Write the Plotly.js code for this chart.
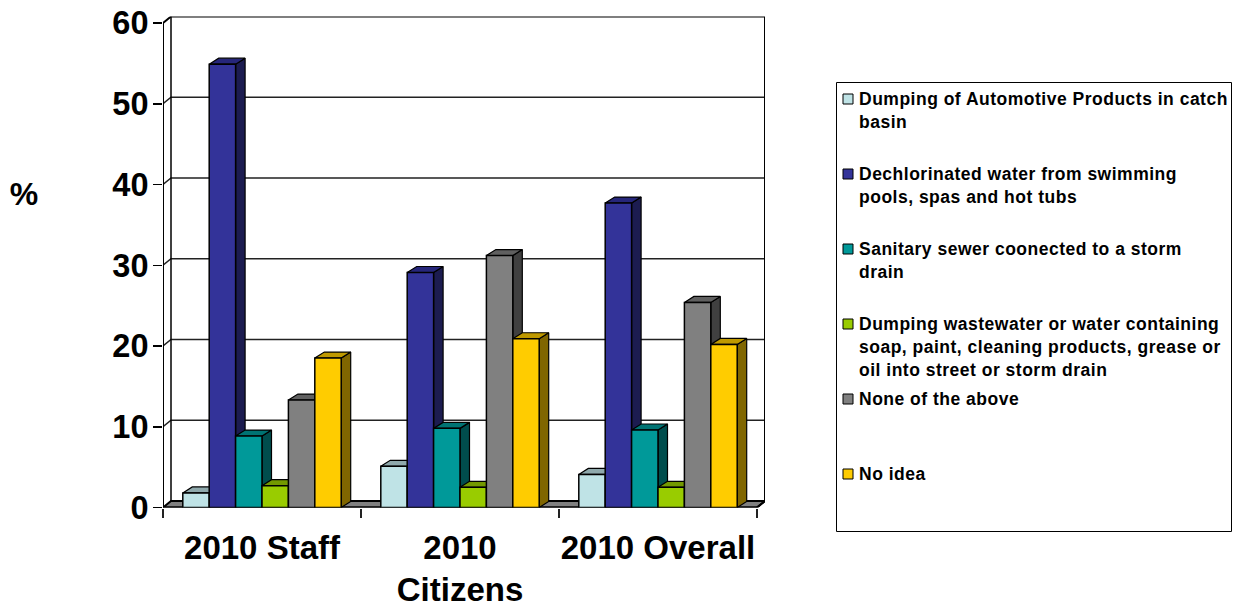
<!DOCTYPE html>
<html><head><meta charset="utf-8">
<script src="https://cdn.plot.ly/plotly-3.0.0.min.js"></script>
<style>html,body{margin:0;padding:0;background:#fff}
.annotation text{letter-spacing:0.5px}</style></head>
<body><div id="chart" style="width:1243px;height:605px"></div>
<script>
const categories = ['2010 Staff', '2010 Citizens', '2010 Overall'];
const tickLabels = ['2010 Staff', '2010<br>Citizens', '2010 Overall'];
const seriesNames = [
  'Dumping of Automotive Products in catch<br>basin',
  'Dechlorinated water from swimming<br>pools, spas and hot tubs',
  'Sanitary sewer coonected to a storm<br>drain',
  'Dumping wastewater or water containing<br>soap, paint, cleaning products, grease or<br>oil into street or storm drain',
  'None of the above',
  'No idea'
];
const automotive   = [1.8, 5.1, 4.1];
const dechlorinated = [54.9, 29.1, 37.7];
const sanitary     = [8.85, 9.8, 9.6];
const wastewater   = [2.7, 2.5, 2.5];
const noneAbove    = [13.3, 31.2, 25.4];
const noIdea       = [18.5, 20.9, 20.2];
const seriesValues = [automotive, dechlorinated, sanitary, wastewater, noneAbove, noIdea];
const yTicks = [0, 10, 20, 30, 40, 50, 60];

const frontColors = ['#bfe3e6', '#333399', '#009999', '#99cc00', '#808080', '#ffcc00'];
const topColors   = ['#8fa9ac', '#26267a', '#007373', '#739900', '#606060', '#bf9900'];
const sideColors  = ['#6a8082', '#1c1c50', '#004d4d', '#4d6600', '#404040', '#806600'];

// pixel frame of the front plane
const W = 1243, H = 605;
const L = 163, R = 757, B = 507.5, T = 23;
const wallPxX = 8, wallPxY = 6.5, barPxX = 9.5, barPxY = 6;
const catPx = (R - L) / categories.length, unitPx = (B - T) / 60;
const wallX = wallPxX / catPx, wallY = wallPxY / unitPx;
const barX = barPxX / catPx, barY = barPxY / unitPx;
const xEnd = categories.length + wallX, yEnd = 60 + wallY;
const barGap = 0.2, barW = (1 - barGap) / seriesValues.length;
const ink = '#000';

function poly(x, y, fill, width, color) {
  return {type: 'scatter', mode: 'lines', x, y, fill: fill ? 'toself' : 'none', fillcolor: fill || undefined, cliponaxis: false,
    line: {color: color || ink, width: width === undefined ? 1.5 : width}, hoverinfo: 'skip', showlegend: false, xaxis: 'x', yaxis: 'y'};
}
const traces = [];
const nCat = categories.length;
// floor
traces.push(poly([0, nCat, nCat + wallX, wallX, 0], [0, 0, wallY, wallY, 0], '#808080', 2));
// gridlines on side and back walls
yTicks.forEach(v => {
  if (v > 0 && v < 60) traces.push(poly([0, wallX, nCat + wallX], [v, v + wallY, v + wallY], null, 1.5, '#222'));
});
// wall frame
traces.push(poly([0, 0, wallX, nCat + wallX, nCat + wallX, nCat], [0, 60, yEnd, yEnd, wallY, 0], null, 2));
traces.push(poly([wallX, wallX], [wallY, yEnd], null, 1.5));
// depth faces
categories.forEach((c, i) => {
  seriesValues.forEach((vals, j) => {
    const v = vals[i], x0 = i + barGap / 2 + j * barW, x1 = x0 + barW;
    traces.push(poly([x1, x1 + barX, x1 + barX, x1, x1], [0, barY, v + barY, v, 0], sideColors[j], 1.2));
    traces.push(poly([x0, x0 + barX, x1 + barX, x1, x0], [v, v + barY, v + barY, v, v], topColors[j], 1.2));
  });
});
traces.push(poly([0, 0], [0, 60], null, 2));
traces.push(poly([0, nCat], [0, 0], null, 2));
// front faces
seriesValues.forEach((vals, j) => {
  traces.push({type: 'bar', name: seriesNames[j], x: categories, y: vals, xaxis: 'x2', yaxis: 'y2', cliponaxis: false,
    marker: {color: frontColors[j], line: {color: ink, width: 1.5}}, showlegend: false});
});

const domX = [L / W, (R + wallPxX) / W];
const domY = [1 - B / H, 1 - (T - wallPxY) / H];
const font = {family: '"Liberation Sans", Arial, sans-serif', color: '#000'};

const annotations = [{xref: 'paper', yref: 'paper', x: 24 / W, y: 1 - 194 / H, text: '<b>%</b>', showarrow: false,
  font: Object.assign({}, font, {size: 32}), xanchor: 'center', yanchor: 'middle'}];
const shapes = [{type: 'rect', xref: 'paper', yref: 'paper', x0: 836.5 / W, x1: 1231.5 / W, y0: 1 - 82.5 / H, y1: 1 - 531.5 / H,
  line: {color: '#000', width: 1}, fillcolor: '#fff', layer: 'below'}];
const legendY = [99, 174, 249, 324, 399, 474];
seriesNames.forEach((n, j) => {
  const yc = legendY[j];
  shapes.push({type: 'rect', xref: 'paper', yref: 'paper', x0: 843 / W, x1: 853 / W, y0: 1 - (yc - 5) / H, y1: 1 - (yc + 5) / H,
    line: {color: '#000', width: 1}, fillcolor: frontColors[j]});
  annotations.push({xref: 'paper', yref: 'paper', x: 859 / W, y: 1 - (yc - 10.5) / H, xanchor: 'left', yanchor: 'top',
    align: 'left', showarrow: false, borderpad: 0, borderwidth: 0,
    text: n.split('<br>').map(s => '<b>' + s + '</b>').join('<br>'), font: Object.assign({}, font, {size: 17.5})});
});

const layout = {
  width: W, height: H, margin: {l: 0, r: 0, t: 0, b: 0, pad: 0}, paper_bgcolor: '#fff', plot_bgcolor: 'rgba(0,0,0,0)',
  showlegend: false, barmode: 'group', bargap: barGap, bargroupgap: 0,
  xaxis: {domain: domX, range: [0, xEnd], tickmode: 'array', tickvals: categories.map((c, i) => i + 0.5), ticktext: tickLabels,
    ticks: '', showgrid: false, zeroline: false, showline: false,
    tickfont: Object.assign({}, font, {size: 33, weight: 700}), ticklabelstandoff: 17,
    minor: {tick0: 0, dtick: 1, ticks: 'outside', ticklen: 9, tickwidth: 1.5, tickcolor: '#222', showgrid: false}},
  yaxis: {domain: domY, range: [0, yEnd], tickmode: 'array', tickvals: yTicks, ticks: 'outside', ticklen: 9, tickwidth: 1.5,
    tickcolor: '#000', showgrid: false, zeroline: false, showline: false,
    tickfont: Object.assign({}, font, {size: 32.5, weight: 700}), ticklabelstandoff: -2},
  xaxis2: {domain: domX, overlaying: 'x', type: 'category', categoryorder: 'array', categoryarray: categories,
    range: [-0.5, nCat - 0.5 + wallX], visible: false, fixedrange: true},
  yaxis2: {domain: domY, overlaying: 'y', range: [0, yEnd], visible: false, fixedrange: true},
  annotations, shapes
};
Plotly.newPlot('chart', traces, layout, {displayModeBar: false, staticPlot: true});
</script></body></html>
